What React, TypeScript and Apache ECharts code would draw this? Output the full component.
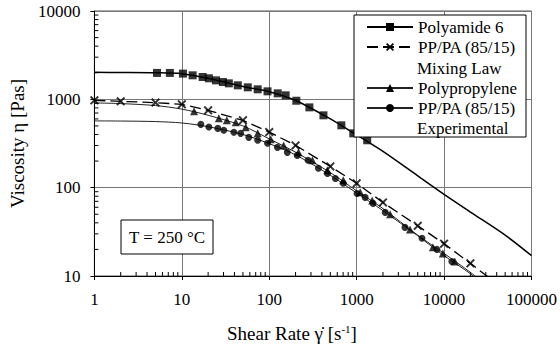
import React, { useEffect, useRef } from 'react';
import * as echarts from 'echarts';

// Polyamide 6 – measured points and fitted curve
const paRates = [5.2, 7.3, 10.3, 13.3, 17.3, 20.4, 24.6, 29.5, 34.5, 43.7, 56.8, 73.8, 95.6, 125, 154, 204, 288, 417, 668, 915, 1320];
const paVisc = [1990, 1990, 1955, 1870, 1790, 1730, 1640, 1570, 1517, 1441, 1368, 1298, 1232, 1169, 1110, 964, 811, 659, 508, 412, 344];
const paFitRates = [1, 2, 5, 10, 20, 50, 100, 200, 500, 1000, 2000, 5000, 10000, 20000, 50000, 100000];
const paFitVisc = [2020, 2015, 2000, 1950, 1730, 1400, 1220, 970, 600, 395, 257, 136, 84, 53, 29, 17];

// PP/PA (85/15) mixing law
const mixRates = [1, 2, 5, 10, 20, 50, 100, 200, 500, 1000, 2000, 5000, 10000, 20000];
const mixVisc = [975, 949, 918, 878, 750, 578, 426, 301, 174, 112, 68, 37, 23.2, 13.9];
const mixLineRates = [1, 2, 5, 10, 20, 50, 100, 200, 500, 1000, 2000, 5000, 10000, 20000, 40000];
const mixLineVisc = [975, 949, 918, 878, 750, 578, 426, 301, 174, 112, 68, 37, 23.2, 13.9, 8.2];

// Polypropylene
const ppRates = [13.8, 26.5, 32.7, 41.4, 53.8, 73.8, 104, 146, 216, 312, 462, 703, 1100, 1506, 2415, 4075, 7450, 9680, 13270];
const ppVisc = [731, 610, 578, 549, 482, 412, 353, 301, 251, 204, 157, 121, 88.5, 71.8, 49.9, 33.7, 21.1, 18.0, 14.6];
const ppFitRates = [1, 2, 5, 10, 20, 50, 100, 200, 500, 1000, 2000, 5000, 10000, 20000, 30000];
const ppFitVisc = [910, 895, 850, 775, 660, 500, 357, 252, 148, 92, 58, 29, 18, 11, 8];

// PP/PA (85/15) experimental
const expRates = [16.5, 20.4, 25.8, 30.2, 39.4, 47.1, 58.3, 73.8, 95.6, 124, 161, 209, 278, 365, 463, 571, 703, 1010, 1250, 1540, 2120, 3570, 5590, 8280, 12270];
const expVisc = [521, 486, 469, 446, 423, 412, 371, 344, 318, 286, 251, 232, 204, 166, 145, 127, 112, 86, 77.6, 66.4, 52.5, 35.5, 26.7, 20, 14.6];
const expFitRates = [1, 2, 5, 10, 20, 50, 100, 200, 500, 1000, 2000, 5000, 10000, 20000, 30000];
const expFitVisc = [570, 568, 560, 540, 490, 400, 315, 235, 138, 87, 55, 28.5, 17, 10.6, 7.5];

const xTickValues = [1, 10, 100, 1000, 10000, 100000];
const xTickLabels = ['1', '10', '100', '1000', '10000', '100000'];
const yTickValues = [10, 100, 1000, 10000];
const yTickLabels = ['10', '100', '1000', '10000'];

const seriesNames = {
  pa: 'Polyamide 6',
  mix: 'PP/PA (85/15) Mixing Law',
  pp: 'Polypropylene',
  exp: 'PP/PA (85/15) Experimental',
};

const FONT = "'Liberation Serif', 'Times New Roman', serif";
const X_SYMBOL = 'path://M0,1.5L1.5,0L5,3.5L8.5,0L10,1.5L6.5,5L10,8.5L8.5,10L5,6.5L1.5,10L0,8.5L3.5,5Z';

const zip = (xs: number[], ys: number[]) => xs.map((x, i) => [x, ys[i]]);

function minorValues(lo: number, hi: number) {
  const out: number[] = [];
  for (let d = lo; d < hi; d *= 10) {
    for (let k = 2; k <= 9; k++) out.push(d * k);
  }
  return out;
}

export default function App() {
  const ref = useRef<HTMLDivElement>(null);
  useEffect(() => {
    if (!ref.current) return;
    const chart = echarts.init(ref.current, null, { renderer: 'svg' });
    const labelFor = (vals: number[], labels: string[]) => (v: number) => {
      const i = vals.findIndex((t) => Math.abs(Math.log10(t) - Math.log10(v)) < 1e-6);
      return i >= 0 ? labels[i] : '';
    };
    const legendText = { fontFamily: FONT, fontSize: 17, color: '#000', lineHeight: 20 };
    const legendFormatter = (name: string) => (name.startsWith('PP/PA') ? 'PP/PA (85/15)' : name);
    const minorStyle = { stroke: '#000', lineWidth: 1 };
    chart.setOption({
      animation: false,
      textStyle: { fontFamily: FONT, color: '#000' },
      grid: { left: 93, right: 28, top: 11, bottom: 77, show: true, borderColor: '#555', borderWidth: 1 },
      legend: [
        {
          data: [seriesNames.pa, seriesNames.mix],
          orient: 'vertical', left: 366, top: 17, padding: 0, itemGap: 0,
          itemWidth: 46, itemHeight: 10, textStyle: legendText, formatter: legendFormatter,
          selectedMode: false,
        },
        {
          data: [seriesNames.pp, seriesNames.exp],
          orient: 'vertical', left: 366, top: 78, padding: 0, itemGap: 0,
          itemWidth: 46, itemHeight: 10, textStyle: legendText, formatter: legendFormatter,
          selectedMode: false,
        },
      ],
      xAxis: {
        type: 'log', logBase: 10, min: 1, max: 100000, splitNumber: 5,
        name: 'Shear Rate γ\u0307 [s{sup|-1}]',
        nameLocation: 'middle', nameGap: 47,
        nameTextStyle: {
          fontFamily: FONT, fontSize: 19, color: '#000', padding: [0, 42, 0, 0],
          rich: { sup: { fontFamily: FONT, fontSize: 11, padding: [0, 0, 9, 0], color: '#000' } },
        },
        axisLine: { show: true, lineStyle: { color: '#000', width: 1 } },
        axisTick: { show: true, inside: false, length: 4, lineStyle: { color: '#000' } },
        axisLabel: { fontFamily: FONT, fontSize: 17, color: '#000', margin: 15, formatter: labelFor(xTickValues, xTickLabels) },
        splitLine: { show: true, lineStyle: { color: '#777', width: 1 } },
      },
      yAxis: {
        type: 'log', logBase: 10, min: 10, max: 10000, splitNumber: 3,
        name: 'Viscosity η [Pas]',
        nameLocation: 'middle', nameGap: 62,
        nameTextStyle: { fontFamily: FONT, fontSize: 19, color: '#000' },
        axisLine: { show: true, lineStyle: { color: '#000', width: 1 } },
        axisTick: { show: true, inside: false, length: 4, lineStyle: { color: '#000' } },
        axisLabel: { fontFamily: FONT, fontSize: 17, color: '#000', margin: 14, formatter: labelFor(yTickValues, yTickLabels) },
        splitLine: { show: true, lineStyle: { color: '#777', width: 1 } },
      },
      graphic: [
        { type: 'rect', z: 3, shape: { x: 354, y: 15, width: 172, height: 122 }, style: { fill: '#fff', stroke: '#000', lineWidth: 1 } },
        { type: 'text', z: 5, x: 417, y: 68, style: { text: 'Mixing Law', fontFamily: FONT, fontSize: 17, fill: '#000', verticalAlign: 'middle' } },
        { type: 'text', z: 5, x: 417, y: 128, style: { text: 'Experimental', fontFamily: FONT, fontSize: 17, fill: '#000', verticalAlign: 'middle' } },
        { type: 'rect', z: 3, shape: { x: 121, y: 220, width: 92, height: 34 }, style: { fill: '#fff', stroke: '#000', lineWidth: 1 } },
        { type: 'text', z: 5, x: 167, y: 237, style: { text: 'T = 250 °C', fontFamily: FONT, fontSize: 17, fill: '#000', align: 'center', verticalAlign: 'middle' } },
      ],
      series: [
        {
          name: seriesNames.pa, type: 'line', data: zip(paFitRates, paFitVisc),
          symbol: 'rect', symbolSize: 8, showSymbol: false, smooth: 0.3,
          lineStyle: { color: '#000', width: 1.5 }, itemStyle: { color: '#000' }, z: 2,
        },
        {
          name: seriesNames.pa, type: 'scatter', data: zip(paRates, paVisc),
          symbol: 'rect', symbolSize: 8, itemStyle: { color: '#000' }, z: 2,
        },
        {
          name: seriesNames.mix, type: 'line', data: zip(mixLineRates, mixLineVisc),
          symbol: X_SYMBOL, symbolSize: 9, showSymbol: false,
          lineStyle: { color: '#000', width: 1.3, type: [11, 5] }, itemStyle: { color: '#000' }, z: 2,
        },
        {
          name: seriesNames.mix, type: 'scatter', data: zip(mixRates, mixVisc),
          symbol: X_SYMBOL, symbolSize: 9, itemStyle: { color: '#000' }, z: 2,
        },
        {
          name: seriesNames.pp, type: 'line', data: zip(ppFitRates, ppFitVisc),
          symbol: 'triangle', symbolSize: 8, showSymbol: false, smooth: 0.3,
          lineStyle: { color: '#222', width: 1 }, itemStyle: { color: '#000' }, z: 2,
        },
        {
          name: seriesNames.pp, type: 'scatter', data: zip(ppRates, ppVisc),
          symbol: 'triangle', symbolSize: 8, itemStyle: { color: '#000' }, z: 2,
        },
        {
          name: seriesNames.exp, type: 'line', data: zip(expFitRates, expFitVisc),
          symbol: 'circle', symbolSize: 7, showSymbol: false, smooth: 0.3,
          lineStyle: { color: '#222', width: 1 }, itemStyle: { color: '#000' }, z: 2,
        },
        {
          name: seriesNames.exp, type: 'scatter', data: zip(expRates, expVisc),
          symbol: 'circle', symbolSize: 7, itemStyle: { color: '#000' }, z: 2,
        },
        {
          type: 'custom', silent: true, clip: false, z: 1,
          data: minorValues(10, 10000).map((v) => [1, v]),
          renderItem: (_p: any, api: any) => {
            const c = api.coord([api.value(0), api.value(1)]);
            return { type: 'line', shape: { x1: c[0], y1: c[1], x2: c[0] + 4, y2: c[1] }, style: minorStyle };
          },
        },
        {
          type: 'custom', silent: true, clip: false, z: 1,
          data: minorValues(1, 100000).map((v) => [v, 10]),
          renderItem: (_p: any, api: any) => {
            const c = api.coord([api.value(0), api.value(1)]);
            return { type: 'line', shape: { x1: c[0], y1: c[1], x2: c[0], y2: c[1] - 4 }, style: minorStyle };
          },
        },
      ],
    });
    return () => chart.dispose();
  }, []);
  return (
    <div
      ref={ref}
      style={{ position: 'fixed', left: 0, top: 0, width: 560, height: 353, background: '#fff' }}
    />
  );
}
